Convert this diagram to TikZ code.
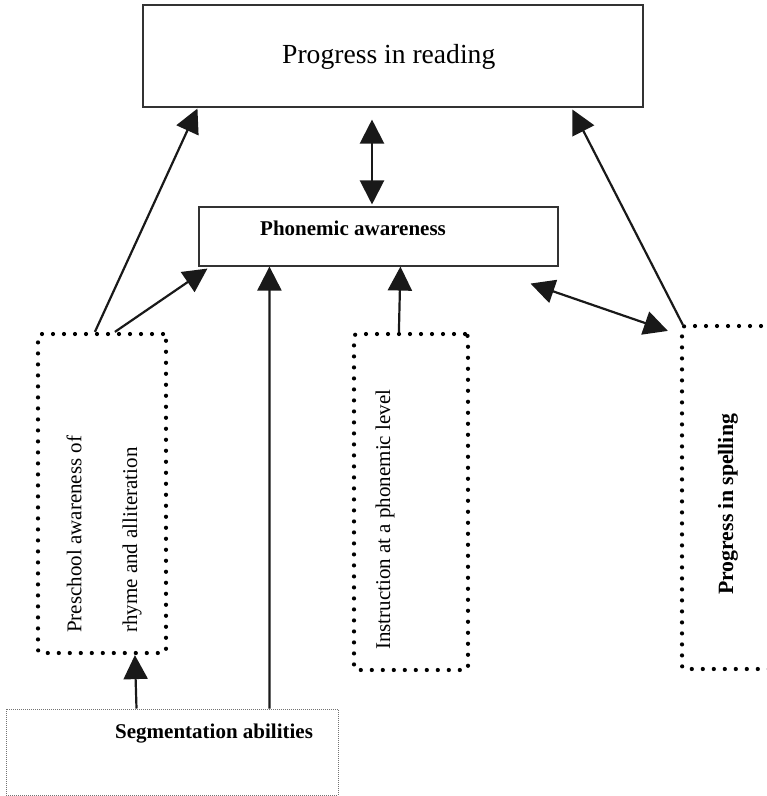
\documentclass[tikz,border=0pt]{standalone}
\usepackage{fontspec}
\setmainfont{Liberation Serif}
\usetikzlibrary{arrows.meta,calc}

\tikzset{
  solidbox/.style={draw=black!80, line width=1.1pt, rectangle, inner sep=0pt},
  dotbox/.style={draw=black, line width=4.2pt, line cap=round,
    dash pattern=on 0pt off 11pt, rectangle, inner sep=0pt, rounded corners=3pt},
  finebox/.style={draw=black!55, line width=1pt, dash pattern=on 1pt off 1pt,
    rectangle, inner sep=0pt},
  label/.style={inner sep=0pt, font=\fontsize{21}{25}\selectfont},
  link/.style={line width=2.2pt, draw=black!90,
    -{Triangle[length=24pt,width=24pt]}},
  twoway/.style={line width=2.2pt, draw=black!90,
    {Triangle[length=24pt,width=24pt]}-{Triangle[length=24pt,width=24pt]}}
}

\begin{document}
\begin{tikzpicture}[x=1pt,y=-1pt]
\useasboundingbox (0,0) rectangle (767,796);

% boxes
\node[solidbox, minimum width=500pt, minimum height=102pt] (reading) at (393,56) {};
\node[solidbox, minimum width=359pt, minimum height=59pt] (phon) at (378.5,236.5) {};
\node[dotbox, minimum width=128pt, minimum height=319pt] (pre) at (102,493.5) {};
\node[dotbox, minimum width=114pt, minimum height=336pt] (inst) at (411,502) {};
\node[dotbox, minimum width=93pt, minimum height=343pt] (spell) at (728.5,497.5) {};
\node[finebox, minimum width=332pt, minimum height=86pt] (seg) at (172,752) {};

% texts
\node[inner sep=0pt, anchor=base west, font=\fontsize{27.6}{32}\selectfont]
  (readingtxt) at (282,63) {Progress in reading};
\node[label, anchor=base west, font=\fontsize{21}{25}\selectfont\bfseries]
  (phontxt) at (260,235) {Phonemic awareness};
\node[label, anchor=west, rotate=90] (pretxta) at (74,633) {Preschool awareness of};
\node[label, anchor=west, rotate=90] (pretxtb) at (132,633) {rhyme and alliteration};
\node[label, anchor=west, rotate=90] (insttxt) at (385,650) {Instruction at a phonemic level};
\node[label, anchor=west, rotate=90, font=\fontsize{21.8}{25}\selectfont\bfseries]
  (spelltxt) at (728,595) {Progress in spelling};
\node[label, anchor=base west, font=\fontsize{21}{25}\selectfont\bfseries]
  (segtxt) at (115,738) {Segmentation abilities};

% connectors
\draw[link] ($(pre.north west)+(59,0)$) -- ($(reading.south west)+(55,1)$);
\draw[link] ($(pre.north west)+(79,0)$) -- ($(phon.south west)+(9,2)$);
\draw[twoway] ($(reading.south)+(-21,12)$) -- ($(phon.north)+(-6.5,-2)$);
\draw[link] ($(seg.north west)+(264,0)$) -- ($(phon.south west)+(71,0)$);
\draw[link] ($(seg.north west)+(131,0)$) -- ($(pre.south west)+(99,0)$);
\draw[link] ($(inst.north west)+(47,0)$) -- ($(phon.south west)+(202,0)$);
\draw[twoway] ($(phon.south east)+(-28,17)$) -- ($(spell.north west)+(-12,7)$);
\draw[link] ($(spell.north west)+(3,1)$) -- ($(reading.south west)+(430,2)$);
\end{tikzpicture}
\end{document}
